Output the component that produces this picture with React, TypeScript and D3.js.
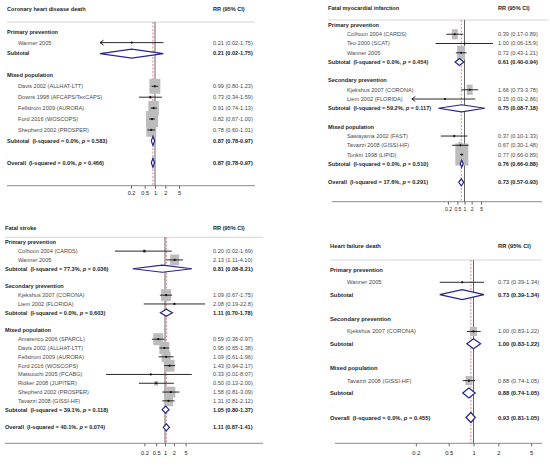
import { useEffect, useRef } from 'react'
import * as d3 from 'd3'

type Row =
  | { kind: 'group'; label: string }
  | { kind: 'study'; label: string; est: number; lo: number; hi: number; w: number }
  | { kind: 'sub' | 'overall'; est: number; lo: number; hi: number; i2?: string; p?: string }
  | { kind: 'gap' }

// Coronary heart disease death
const chdRows: Row[] = [
  { kind: 'group', label: 'Primary prevention' },
  { kind: 'study', label: 'Wanner 2005', est: 0.21, lo: 0.02, hi: 1.75, w: 0.1 },
  { kind: 'sub', est: 0.21, lo: 0.02, hi: 1.75 },
  { kind: 'gap' },
  { kind: 'group', label: 'Mixed population' },
  { kind: 'study', label: 'Davis 2002 (ALLHAT-LTT)', est: 0.99, lo: 0.80, hi: 1.23, w: 25.1 },
  { kind: 'study', label: 'Downs 1998 (AFCAPS/TexCAPS)', est: 0.73, lo: 0.34, hi: 1.59, w: 1.3 },
  { kind: 'study', label: 'Fellstrom 2009 (AURORA)', est: 0.91, lo: 0.74, hi: 1.13, w: 22.8 },
  { kind: 'study', label: 'Ford 2016 (WOSCOPS)', est: 0.82, lo: 0.67, hi: 1.00, w: 29.9 },
  { kind: 'study', label: 'Shepherd 2002 (PROSPER)', est: 0.78, lo: 0.60, hi: 1.01, w: 20.8 },
  { kind: 'sub', est: 0.87, lo: 0.78, hi: 0.97, i2: '0.0%', p: '0.583' },
  { kind: 'gap' },
  { kind: 'overall', est: 0.87, lo: 0.78, hi: 0.97, i2: '0.0%', p: '0.466' }
]

// Fatal myocardial infarction
const miRows: Row[] = [
  { kind: 'group', label: 'Primary prevention' },
  { kind: 'study', label: 'Colhoun 2004 (CARDS)', est: 0.39, lo: 0.17, hi: 0.89, w: 11.1 },
  { kind: 'study', label: 'Teo 2000 (SCAT)', est: 1.00, lo: 0.06, hi: 15.9, w: 0.2 },
  { kind: 'study', label: 'Wanner 2005', est: 0.72, lo: 0.43, hi: 1.21, w: 19.8 },
  { kind: 'sub', est: 0.61, lo: 0.40, hi: 0.94, i2: '0.0%', p: '0.454' },
  { kind: 'gap' },
  { kind: 'group', label: 'Secondary prevention' },
  { kind: 'study', label: 'Kjekshus 2007 (CORONA)', est: 1.66, lo: 0.73, hi: 3.78, w: 11.1 },
  { kind: 'study', label: 'Liem 2002 (FLORIDA)', est: 0.15, lo: 0.006, hi: 2.86, w: 0.2 },
  { kind: 'sub', est: 0.75, lo: 0.08, hi: 7.18, i2: '59.2%', p: '0.117' },
  { kind: 'gap' },
  { kind: 'group', label: 'Mixed population' },
  { kind: 'study', label: 'Sawayama 2002 (FAST)', est: 0.37, lo: 0.10, hi: 1.33, w: 0.7 },
  { kind: 'study', label: 'Tavazzi 2008 (GISSI-HF)', est: 0.67, lo: 0.30, hi: 1.48, w: 4.9 },
  { kind: 'study', label: 'Tonkin 1998 (LIPID)', est: 0.77, lo: 0.66, hi: 0.89, w: 52.2 },
  { kind: 'sub', est: 0.76, lo: 0.66, hi: 0.88, i2: '0.0%', p: '0.510' },
  { kind: 'gap' },
  { kind: 'overall', est: 0.73, lo: 0.57, hi: 0.93, i2: '17.6%', p: '0.291' }
]

// Fatal stroke
const strokeRows: Row[] = [
  { kind: 'group', label: 'Primary prevention' },
  { kind: 'study', label: 'Colhoun 2004 (CARDS)', est: 0.20, lo: 0.02, hi: 1.69, w: 1.2 },
  { kind: 'study', label: 'Wanner 2005', est: 2.13, lo: 1.11, hi: 4.10, w: 10.7 },
  { kind: 'sub', est: 0.81, lo: 0.08, hi: 8.21, i2: '77.3%', p: '0.036' },
  { kind: 'gap' },
  { kind: 'group', label: 'Secondary prevention' },
  { kind: 'study', label: 'Kjekshus 2007 (CORONA)', est: 1.09, lo: 0.67, hi: 1.75, w: 13.3 },
  { kind: 'study', label: 'Liem 2002 (FLORIDA)', est: 2.08, lo: 0.19, hi: 22.8, w: 0.5 },
  { kind: 'sub', est: 1.11, lo: 0.70, hi: 1.78, i2: '0.0%', p: '0.603' },
  { kind: 'gap' },
  { kind: 'group', label: 'Mixed population' },
  { kind: 'study', label: 'Amarenco 2006 (SPARCL)', est: 0.59, lo: 0.36, hi: 0.97, w: 13.3 },
  { kind: 'study', label: 'Davis 2002 (ALLHAT-LTT)', est: 0.95, lo: 0.65, hi: 1.38, w: 13.3 },
  { kind: 'study', label: 'Fellstrom 2009 (AURORA)', est: 1.09, lo: 0.61, hi: 1.96, w: 10.7 },
  { kind: 'study', label: 'Ford 2016 (WOSCOPS)', est: 1.43, lo: 0.94, hi: 2.17, w: 13.3 },
  { kind: 'study', label: 'Matsuuchi 2005 (PCABG)', est: 0.33, lo: 0.01, hi: 8.07, w: 0.1 },
  { kind: 'study', label: 'Ridker 2008 (JUPITER)', est: 0.50, lo: 0.13, hi: 2.00, w: 2.1 },
  { kind: 'study', label: 'Shepherd 2002 (PROSPER)', est: 1.58, lo: 0.81, hi: 3.09, w: 10.7 },
  { kind: 'study', label: 'Tavazzi 2008 (GISSI-HF)', est: 1.31, lo: 0.81, hi: 2.12, w: 10.7 },
  { kind: 'sub', est: 1.05, lo: 0.80, hi: 1.37, i2: '39.1%', p: '0.118' },
  { kind: 'gap' },
  { kind: 'overall', est: 1.11, lo: 0.87, hi: 1.41, i2: '40.1%', p: '0.074' }
]

// Heart failure death
const hfRows: Row[] = [
  { kind: 'group', label: 'Primary prevention' },
  { kind: 'study', label: 'Wanner 2005', est: 0.73, lo: 0.39, hi: 1.34, w: 1 },
  { kind: 'sub', est: 0.73, lo: 0.39, hi: 1.34 },
  { kind: 'gap' },
  { kind: 'group', label: 'Secondary prevention' },
  { kind: 'study', label: 'Kjekshus 2007 (CORONA)', est: 1.00, lo: 0.83, hi: 1.22, w: 49.5 },
  { kind: 'sub', est: 1.00, lo: 0.83, hi: 1.22 },
  { kind: 'gap' },
  { kind: 'group', label: 'Mixed population' },
  { kind: 'study', label: 'Tavazzi 2008 (GISSI-HF)', est: 0.88, lo: 0.74, hi: 1.05, w: 49.5 },
  { kind: 'sub', est: 0.88, lo: 0.74, hi: 1.05 },
  { kind: 'gap' },
  { kind: 'overall', est: 0.93, lo: 0.81, hi: 1.05, i2: '0.0%', p: '0.455' }
]

const axisTicks = [0.2, 0.5, 1, 2, 5]

interface Layout {
  title: string
  x0: number
  nameX: number
  valX: number
  titleY: number
  lineY: number
  lineX: [number, number]
  firstY: number
  lastY: number
  axisY: number
  axisX: [number, number]
  oneX: number
  ppd: number
  xMin: number
  boxK: number
  boxAsp: number
  diaH: number
  tickPad: number
  tickFs: number
  fs: number
}

const FONT = '"Liberation Sans", Arial, Helvetica, sans-serif'

const fmt = (v: number) => (v >= 10 ? v.toFixed(1) : v.toFixed(2))

function drawPanel(svg: d3.Selection<SVGSVGElement, unknown, null, undefined>, rows: Row[], p: Layout) {
  const g = svg.append('g').style('font-family', FONT).style('font-size', `${p.fs}px`)
  const x = d3.scaleLog().domain([1, 10]).range([p.oneX, p.oneX + p.ppd])
  const y = d3.scaleLinear().domain([0, rows.length - 1]).range([p.firstY, p.lastY])
  const cx = (v: number) => x(Math.max(v, p.xMin))

  // Title + column header
  g.append('text').attr('x', p.x0).attr('y', p.titleY).attr('dy', '0.35em')
    .style('font-weight', 'bold').attr('fill', '#1e1e1e').text(p.title)
  g.append('text').attr('x', p.valX).attr('y', p.titleY).attr('dy', '0.35em')
    .style('font-weight', 'bold').attr('fill', '#1e1e1e').text('RR (95% CI)')

  g.append('line')
    .attr('x1', p.lineX[0]).attr('x2', p.lineX[1])
    .attr('y1', p.lineY).attr('y2', p.lineY)
    .style('stroke', '#d4d4d4').style('stroke-width', '1px')

  // Axis line across panel
  g.append('line')
    .attr('x1', p.axisX[0]).attr('x2', p.axisX[1])
    .attr('y1', p.axisY).attr('y2', p.axisY)
    .style('stroke', '#8a8a8a').style('stroke-width', '1px')

  const axis = d3.axisBottom(x)
    .tickValues(axisTicks)
    .tickFormat(d => String(d))
    .tickSize(3)
    .tickPadding(p.tickPad)
  const ag = g.append('g').attr('transform', `translate(0,${p.axisY})`).call(axis as any)
  ag.select('.domain').remove()
  ag.selectAll('line').style('stroke', '#666')
  ag.selectAll('text').style('font-size', `${p.tickFs}px`).style('font-family', FONT).attr('fill', '#1e1e1e')

  // Null line
  g.append('line')
    .attr('x1', x(1)).attr('x2', x(1))
    .attr('y1', p.lineY).attr('y2', p.axisY)
    .style('stroke', '#555').style('stroke-width', '0.9px')

  // Overall estimate line
  const overall = rows.find(r => r.kind === 'overall') as any
  if (overall) {
    g.append('line')
      .attr('x1', x(overall.est)).attr('x2', x(overall.est))
      .attr('y1', p.lineY).attr('y2', p.axisY)
      .style('stroke', '#e0606a').style('stroke-width', '0.8px')
      .style('stroke-dasharray', '2,1.5')
  }

  // Boxes first
  rows.forEach((r, i) => {
    if (r.kind !== 'study') return
    const s = p.boxK * Math.sqrt(r.w)
    const h = s * p.boxAsp
    g.append('rect')
      .attr('x', x(r.est) - s / 2).attr('y', y(i) - h / 2)
      .attr('width', s).attr('height', h)
      .style('fill', '#bcbcbc')
  })

  rows.forEach((r, i) => {
    const yy = y(i)
    if (r.kind === 'group') {
      g.append('text').attr('x', p.x0).attr('y', yy).attr('dy', '0.35em')
        .style('font-weight', 'bold').attr('fill', '#262626').text(r.label)
    } else if (r.kind === 'gap') {
      g.append('text').attr('x', p.x0).attr('y', yy).attr('dy', '0.35em')
        .attr('fill', '#b5b5b5').text('.')
    } else if (r.kind === 'study') {
      g.append('text').attr('x', p.nameX).attr('y', yy).attr('dy', '0.35em')
        .attr('fill', '#4a4a4a').text(r.label)
      g.append('text').attr('x', p.valX).attr('y', yy).attr('dy', '0.35em')
        .attr('fill', '#4a4a4a').text(`${fmt(r.est)} (${fmt(r.lo)}-${fmt(r.hi)})`)
      g.append('line')
        .attr('x1', cx(r.lo)).attr('x2', cx(r.hi))
        .attr('y1', yy).attr('y2', yy)
        .style('stroke', '#111').style('stroke-width', '0.9px')
      if (r.lo <= p.xMin) {
        const ax = cx(r.lo)
        g.append('path')
          .attr('d', `M${ax + 3.5},${yy - 2.5}L${ax},${yy}L${ax + 3.5},${yy + 2.5}`)
          .style('fill', 'none').style('stroke', '#111').style('stroke-width', '0.9px')
      }
      g.append('circle').attr('cx', x(r.est)).attr('cy', yy).attr('r', 1.1).style('fill', '#111')
    } else {
      const t = g.append('text').attr('x', p.x0).attr('y', yy).attr('dy', '0.35em')
        .style('font-weight', 'bold').style('white-space', 'pre').attr('fill', '#1e1e1e')
      t.append('tspan').text(r.kind === 'sub' ? 'Subtotal' : 'Overall')
      if (r.i2) {
        t.append('tspan').attr('dx', 3).text(`(I-squared = ${r.i2}, `)
        t.append('tspan').style('font-style', 'italic').text('p')
        t.append('tspan').text(` = ${r.p})`)
      }
      g.append('text').attr('x', p.valX).attr('y', yy).attr('dy', '0.35em')
        .style('font-weight', 'bold').attr('fill', '#1e1e1e')
        .text(`${fmt(r.est)} (${fmt(r.lo)}-${fmt(r.hi)})`)
      const hh = p.diaH / 2
      g.append('path')
        .attr('d', `M${cx(r.lo)},${yy}L${x(r.est)},${yy - hh}L${cx(r.hi)},${yy}L${x(r.est)},${yy + hh}Z`)
        .style('fill', '#fff').style('stroke', '#25258a').style('stroke-width', '1.2px')
    }
  })
}

const chdLayout: Layout = {
  title: 'Coronary heart disease death', x0: 7, nameX: 18, valX: 213, titleY: 9, lineY: 22,
  lineX: [7, 255], firstY: 31.7, lastY: 162.7, axisY: 185.7, axisX: [7, 255],
  oneX: 155, ppd: 34.3, xMin: 0.025, boxK: 2.19, boxAsp: 1.35, diaH: 9, tickPad: 2, tickFs: 5.6, fs: 5.6
}
const miLayout: Layout = {
  title: 'Fatal myocardial infarction', x0: 328, nameX: 347, valX: 498, titleY: 8.5, lineY: 20,
  lineX: [328, 548], firstY: 25, lastY: 182.3, axisY: 201.7, axisX: [332, 542],
  oneX: 464.5, ppd: 23.7, xMin: 0.006, boxK: 1.8, boxAsp: 1.7, diaH: 7, tickPad: 2.5, tickFs: 5, fs: 5.6
}
const strokeLayout: Layout = {
  title: 'Fatal stroke', x0: 5, nameX: 18, valX: 213, titleY: 228, lineY: 237.3,
  lineX: [5, 263], firstY: 242.3, lastY: 427.3, axisY: 443.3, axisX: [5, 263],
  oneX: 165, ppd: 29.5, xMin: 0.001, boxK: 2.74, boxAsp: 1.2, diaH: 7, tickPad: 5, tickFs: 5.6, fs: 5.6
}
const hfLayout: Layout = {
  title: 'Heart failure death', x0: 330, nameX: 347, valX: 498, titleY: 245.7, lineY: 260,
  lineX: [330, 542], firstY: 270, lastY: 417.5, axisY: 443.3, axisX: [335, 542],
  oneX: 473.5, ppd: 82.5, xMin: 0.001, boxK: 1.0, boxAsp: 1.3, diaH: 10, tickPad: 4.5, tickFs: 5.8, fs: 5.8
}

export default function App() {
  const svgRef = useRef<SVGSVGElement>(null)

  useEffect(() => {
    if (!svgRef.current) return
    const svg = d3.select(svgRef.current)
    svg.selectAll('*').remove()
    svg.append('rect').attr('width', 550).attr('height', 467).style('fill', '#fff')
    drawPanel(svg, chdRows, chdLayout)
    drawPanel(svg, miRows, miLayout)
    drawPanel(svg, strokeRows, strokeLayout)
    drawPanel(svg, hfRows, hfLayout)
  }, [])

  return (
    <>
      <style>{'body{margin:0}'}</style>
      <svg ref={svgRef} width={550} height={467} style={{ display: 'block' }} />
    </>
  )
}
